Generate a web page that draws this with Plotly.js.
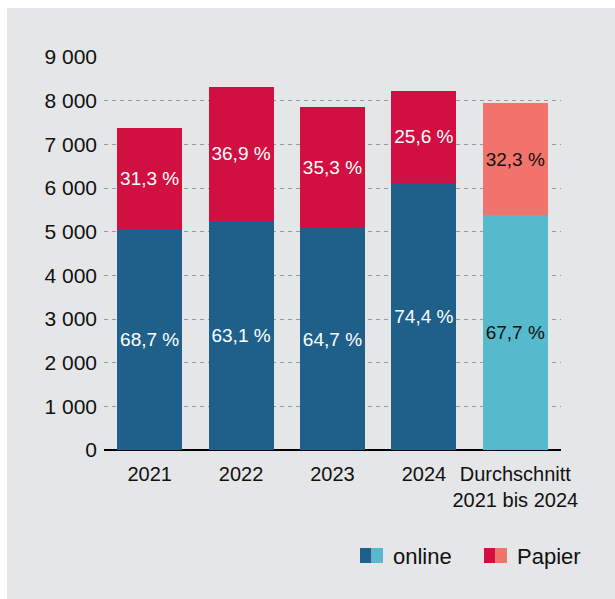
<!DOCTYPE html>
<html>
<head>
<meta charset="utf-8">
<script src="https://cdn.plot.ly/plotly-3.0.1.min.js"></script>
<style>
  html, body { margin: 0; padding: 0; background: #ffffff; }
  #wrap { position: absolute; left: 7px; top: 8px; width: 608px; height: 591px; background: #e5e6e8; }
  #chart { width: 608px; height: 591px; }
</style>
</head>
<body>
<div id="wrap"><div id="chart"></div></div>
<script>
// ---- data ----
const categories = ["2021", "2022", "2023", "2024", "Durchschnitt<br>2021 bis 2024"];
const onlineValues = [5063, 5245, 5082, 6116, 5379];
const papierValues = [2307, 3068, 2772, 2105, 2567];
const onlineLabels = ["68,7 %", "63,1 %", "64,7 %", "74,4 %", "67,7 %"];
const papierLabels = ["31,3 %", "36,9 %", "35,3 %", "25,6 %", "32,3 %"];
const yTickVals = [0, 1000, 2000, 3000, 4000, 5000, 6000, 7000, 8000, 9000];
const yTickText = ["0", "1 000", "2 000", "3 000", "4 000", "5 000", "6 000", "7 000", "8 000", "9 000"];
const legendNames = ["online", "Papier"];

// ---- styles ----
const DARK_BLUE = "#1e608a", LIGHT_BLUE = "#56b9cc";
const DARK_RED = "#d10f40", LIGHT_RED = "#f2736c";
const FONT = "Liberation Sans, Arial, Helvetica, sans-serif";

function colorsFor(dark, light) { return categories.map((c, i) => i === categories.length - 1 ? light : dark); }
const textColors = categories.map((c, i) => i === categories.length - 1 ? "#111111" : "#ffffff");

const common = {
  type: "bar",
  x: categories,
  textposition: "inside",
  insidetextanchor: "middle",
  textangle: 0,
  constraintext: "none",
  hoverinfo: "skip",
  showlegend: false
};

const traces = [
  Object.assign({}, common, {
    name: legendNames[0], y: onlineValues, text: onlineLabels,
    marker: { color: colorsFor(DARK_BLUE, LIGHT_BLUE), line: { width: 0 } },
    textfont: { family: FONT, size: 19, color: textColors }
  }),
  Object.assign({}, common, {
    name: legendNames[1], y: papierValues, text: papierLabels,
    marker: { color: colorsFor(DARK_RED, LIGHT_RED), line: { width: 0 } },
    textfont: { family: FONT, size: 19, color: textColors }
  })
];

// helpers for custom legend (page px -> paper coords)
const ML = 97, MR = 54, MT = 49, MB = 149, W = 608, H = 591;
const PW = W - ML - MR, PH = H - MT - MB;
const px = x => (x - 7 - ML) / PW;
const py = y => (H - MB - (y - 8)) / PH;

function sq(x0, x1, col) {
  return { type: "rect", xref: "paper", yref: "paper", x0: px(x0), x1: px(x1), y0: py(563), y1: py(548),
           fillcolor: col, line: { width: 0 } };
}

const layout = {
  width: W, height: H,
  margin: { l: ML, r: MR, t: MT, b: MB, pad: 0 },
  paper_bgcolor: "#e5e6e8",
  plot_bgcolor: "#e5e6e8",
  barmode: "stack",
  bargap: 0.29,
  font: { family: FONT, size: 21, color: "#111111" },
  xaxis: {
    type: "category",
    range: [-0.5, 4.5],
    showgrid: false, zeroline: false, showline: false,
    ticks: "", ticklabelstandoff: 10, tickangle: 0,
    tickfont: { family: FONT, size: 20, color: "#111111" },
    fixedrange: true
  },
  yaxis: {
    range: [0, 9000],
    tickvals: yTickVals, ticktext: yTickText,
    showgrid: true, gridcolor: "#9a9a9a", gridwidth: 1, griddash: "4px,4px",
    zeroline: true, zerolinecolor: "#000000", zerolinewidth: 2,
    showline: false, ticks: "", ticklabelstandoff: 6,
    tickfont: { family: FONT, size: 21, color: "#111111" },
    fixedrange: true
  },
  shapes: [
    sq(360, 371.5, DARK_BLUE), sq(371.5, 383, LIGHT_BLUE),
    sq(484, 495.5, DARK_RED), sq(495.5, 507, LIGHT_RED)
  ],
  annotations: [
    { xref: "paper", yref: "paper", x: px(391), y: py(556), xanchor: "left", yanchor: "middle",
      text: legendNames[0], showarrow: false, font: { family: FONT, size: 22, color: "#111111" } },
    { xref: "paper", yref: "paper", x: px(515), y: py(556), xanchor: "left", yanchor: "middle",
      text: legendNames[1], showarrow: false, font: { family: FONT, size: 22, color: "#111111" } }
  ]
};

Plotly.newPlot("chart", traces, layout, { displayModeBar: false, staticPlot: true });
</script>
</body>
</html>
